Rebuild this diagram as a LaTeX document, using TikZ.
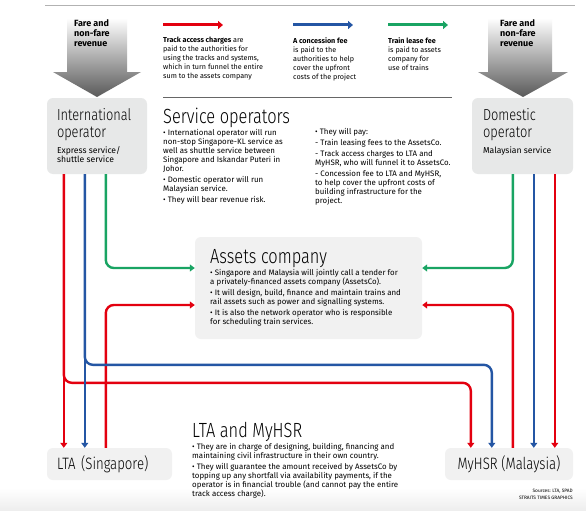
\documentclass[tikz,border=0pt]{standalone}
\usepackage{fontspec}
\setmainfont{Fira Sans}
\newfontfamily\thinfont{Fira Sans Light}[FakeStretch=0.8]
\usepackage{tikz}
\usetikzlibrary{arrows.meta,positioning,calc}
\definecolor{STred}{HTML}{E3000F}
\definecolor{STblue}{HTML}{2456A4}
\definecolor{STgreen}{HTML}{19A463}
\definecolor{STbox}{HTML}{E7E8E8}
\definecolor{STsoft}{HTML}{F1F1F1}
\tikzset{
  st/opbox/.style={fill=STbox, rounded corners=6pt, minimum width=100pt, minimum height=76pt, inner sep=0pt},
  st/infobox/.style={fill=STsoft, rounded corners=6pt, minimum width=227pt, minimum height=102pt, inner sep=0pt},
  st/authbox/.style={fill=STsoft, rounded corners=6pt, minimum height=32pt, inner ysep=0pt, font=\thinfont\fontsize{16.5}{18}\selectfont},
  st/title/.style={font=\thinfont\fontsize{20.5}{22}\selectfont, inner sep=0pt, anchor=base west},
  st/optitle/.style={font=\thinfont\fontsize{16}{17}\selectfont, align=left, inner sep=0pt},
  st/body/.style={font=\fontsize{7.9}{9}\selectfont, align=left, inner sep=0pt, anchor=north west},
  st/key/.style={font=\fontsize{7.2}{9}\selectfont, align=left, inner sep=0pt, anchor=north west},
  st/sub/.style={font=\fontsize{8.6}{9}\selectfont, align=left, inner sep=0pt},
  st/fare/.style={font=\bfseries\fontsize{9}{10}\selectfont, align=left, inner sep=0pt, anchor=north west},
  st/flow/.style={line width=2.4pt, rounded corners=8pt, -{Triangle[length=5pt,width=7pt]}},
  st/red/.style={st/flow, draw=STred},
  st/blue/.style={st/flow, draw=STblue},
  st/green/.style={st/flow, draw=STgreen},
  st/keyarrow/.style={line width=3pt, -{Triangle[length=5pt,width=8pt]}}
}

\begin{document}
\begin{tikzpicture}[x=1pt, y=-1pt]
\fill[white] (0,0) rectangle (586,511);
\shade[top color=white, bottom color=black!7] (0,488) rectangle (586,511);
\draw[black!30, line width=0.8pt] (45,5) -- (575,5);
\draw[black!60, line width=1pt] (163,97) -- (452,97);

% revenue arrows
\shade[top color=white, bottom color=black!65] (67,18) -- (127,18) -- (127,72) -- (141,72) -- (97,97) -- (53,72) -- (67,72) -- cycle;
\shade[top color=white, bottom color=black!65] (488,18) -- (552,18) -- (552,72) -- (568,72) -- (523,97) -- (478,72) -- (488,72) -- cycle;
\node[st/fare] (farel) at (74,19) {Fare and\\non-fare\\revenue};
\node[st/fare] (farer) at (500,19) {Fare and\\non-fare\\revenue};

% key
\coordinate (kr1) at (163,25); \coordinate (kr2) at (223,25);
\coordinate (kb1) at (293,25); \coordinate (kb2) at (353,25);
\coordinate (kg1) at (388,25); \coordinate (kg2) at (448,25);
\draw[st/keyarrow, STred] (kr1) -- (kr2);
\draw[st/keyarrow, STblue] (kb1) -- (kb2);
\draw[st/keyarrow, STgreen] (kg1) -- (kg2);
\node[st/key] (keyred) at (163,37) {\textbf{Track access charges} are\\paid to the authorities for\\using the tracks and systems,\\which in turn funnel the entire\\sum to the assets company};
\node[st/key] (keyblue) at (293,37) {\textbf{A concession fee}\\is paid to the\\authorities to help\\cover the upfront\\costs of the project};
\node[st/key] (keygreen) at (388,37) {\textbf{Train lease fee}\\is paid to assets\\company for\\use of trains};

% operators
\node[st/opbox] (intl) at (97,136) {};
\node[st/opbox, minimum width=101pt] (dom) at (522.5,136) {};
\node[st/optitle, below right=10pt and 10pt of intl.north west] (intlname) {International\\operator};
\node[st/sub, below=6pt of intlname.south west, anchor=north west] (intlsub) {Express service/\\shuttle service};
\node[st/optitle, below right=10pt and 11pt of dom.north west] (domname) {Domestic\\operator};
\node[st/sub, below=6pt of domname.south west, anchor=north west] (domsub) {Malaysian service};

\node[st/title] (sotitle) at (163,123) {Service operators};
\node[st/body] (socol1) at (163,129) {• International operator will run\\non-stop Singapore-KL service as\\well as shuttle service between\\Singapore and Iskandar Puteri in\\Johor.\\[2pt]• Domestic operator will run\\Malaysian service.\\[2pt]• They will bear revenue risk.};
\node[st/body] (socol2) at (315,128) {• They will pay:\\[2pt]- Train leasing fees to the AssetsCo.\\[2pt]- Track access charges to LTA and\\MyHSR, who will funnel it to AssetsCo.\\[2pt]- Concession fee to LTA and MyHSR,\\to help cover the upfront costs of\\building infrastructure for the\\project.};

% assets company
\node[st/infobox] (assets) at (308.5,288) {};
\node[st/title] (astitle) at (210,263) {Assets company};
\node[st/body] (asbody) at (210,269) {• Singapore and Malaysia will jointly call a tender for\\a privately-financed assets company (AssetsCo).\\[2pt]• It will design, build, finance and maintain trains and\\rail assets such as power and signalling systems.\\[2pt]• It is also the network operator who is responsible\\for scheduling train services.};

% authorities
\node[st/authbox, text width=105pt, inner xsep=10pt, align=left] (lta) at (109.5,464) {LTA (Singapore)};
\node[st/authbox, minimum width=128pt, inner xsep=0pt] (myhsr) at (509,464) {MyHSR (Malaysia)};
\node[st/title] (autitle) at (192,437) {LTA and MyHSR};
\node[st/body] (aubody) at (192,443) {• They are in charge of designing, building, financing and\\maintaining civil infrastructure in their own country.\\[2pt]• They will guarantee the amount received by AssetsCo by\\topping up any shortfall via availability payments, if the\\operator is in financial trouble (and cannot pay the entire\\track access charge).};
\node[font=\fontsize{4.8}{6.5}\selectfont, align=right, inner sep=0pt, anchor=north east] (src) at (573,489) {Sources: LTA, SPAD\\STRAITS TIMES GRAPHICS};

% flows
\draw[st/green] ([xshift=59pt]intl.south west) |- ([yshift=20pt]assets.west);
\draw[st/green] ([xshift=41pt]dom.south west) |- ([yshift=20pt]assets.east);
\draw[st/red] ([xshift=59pt]lta.north west) |- ([yshift=-17pt]assets.west);
\draw[st/red] ([xshift=68pt]myhsr.north west) |- ([yshift=-17pt]assets.east);
\draw[st/blue] ([xshift=38pt]intl.south west) |- ([xshift=47pt, yshift=83pt]myhsr.north west) -- ([xshift=47pt]myhsr.north west);
\draw[st/red] ([xshift=17pt]intl.south west) |- ([xshift=26pt, yshift=65pt]myhsr.north west) -- ([xshift=26pt]myhsr.north west);
\draw[st/red] ([xshift=17pt]intl.south west) -- ([xshift=17pt]lta.north west);
\draw[st/blue] ([xshift=38pt]intl.south west) -- ([xshift=38pt]lta.north west);
\draw[st/blue] ([xshift=62pt]dom.south west) -- ([xshift=89pt]myhsr.north west);
\draw[st/red] ([xshift=83pt]dom.south west) -- ([xshift=110pt]myhsr.north west);
\end{tikzpicture}
\end{document}
